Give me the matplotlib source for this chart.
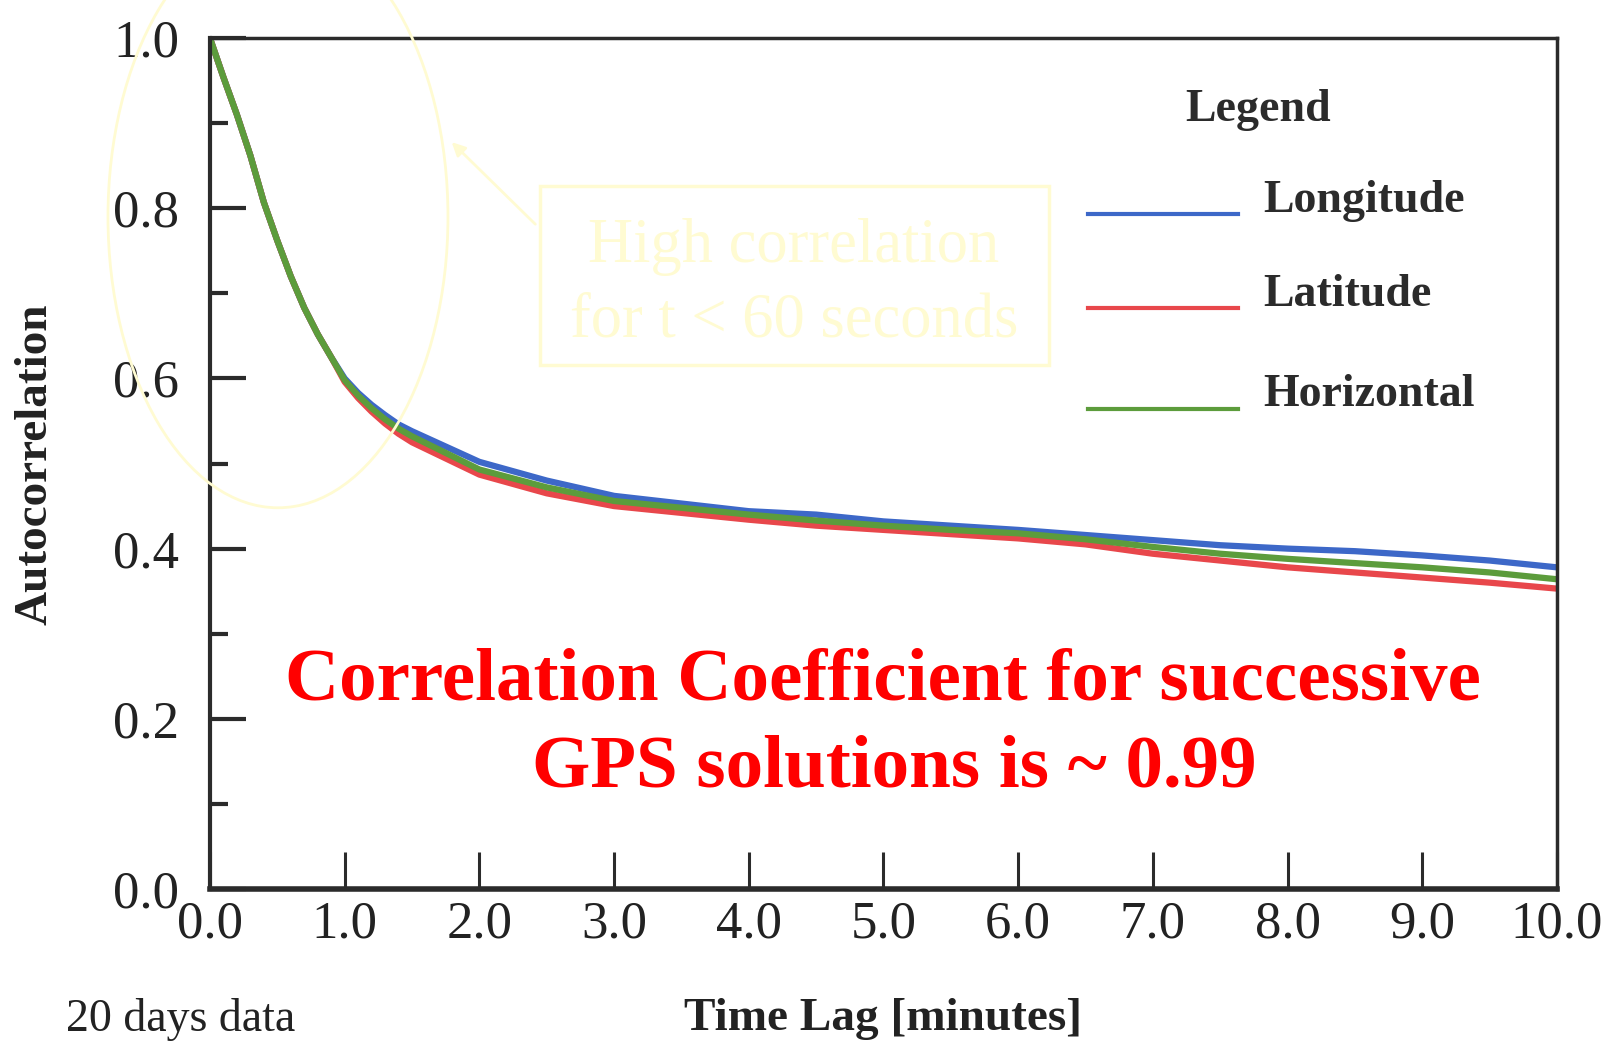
import matplotlib
matplotlib.use("Agg")
from matplotlib import pyplot as plt
from matplotlib.patches import Ellipse, Rectangle

plt.rcParams['font.family'] = ['Liberation Serif', 'DejaVu Serif']

# time lag in minutes and autocorrelation
lag = [0.0, 0.1, 0.2, 0.3, 0.4, 0.5, 0.6, 0.7, 0.8, 0.9, 1.0, 1.1, 1.2, 1.3, 1.4,
       1.5, 2.0, 2.5, 3.0, 3.5, 4.0, 4.5, 5.0, 5.5, 6.0, 6.5, 7.0, 7.5, 8.0,
       8.5, 9.0, 9.5, 10.0]
longitude = [1.0, 0.954, 0.910, 0.862, 0.807, 0.762, 0.720, 0.683, 0.652, 0.625,
             0.600, 0.583, 0.569, 0.557, 0.546,
             0.538, 0.502, 0.480, 0.462, 0.453, 0.444, 0.440, 0.432, 0.427,
             0.422, 0.416, 0.410, 0.404, 0.400, 0.397, 0.392, 0.386, 0.378]
latitude = [1.0, 0.954, 0.910, 0.862, 0.807, 0.762, 0.720, 0.683, 0.652, 0.625,
            0.596, 0.577, 0.561, 0.547, 0.535,
            0.525, 0.487, 0.465, 0.450, 0.442, 0.434, 0.427, 0.422, 0.417,
            0.412, 0.405, 0.394, 0.386, 0.378, 0.372, 0.366, 0.360, 0.353]
horizontal = [1.0, 0.954, 0.910, 0.862, 0.807, 0.762, 0.720, 0.683, 0.652, 0.625,
              0.598, 0.580, 0.565, 0.552, 0.541,
              0.532, 0.493, 0.472, 0.456, 0.448, 0.440, 0.433, 0.427, 0.422,
              0.418, 0.411, 0.402, 0.394, 0.388, 0.383, 0.378, 0.372, 0.364]

names = ["Longitude", "Latitude", "Horizontal"]
colors = ["#3d68c8", "#e8474b", "#5c9c3c"]

x_ticks = [0, 1, 2, 3, 4, 5, 6, 7, 8, 9, 10]
y_ticks = [0.0, 0.2, 0.4, 0.6, 0.8, 1.0]
y_minor = [0.1, 0.3, 0.5, 0.7, 0.9]

fig = plt.figure(figsize=(16.2, 10.44), dpi=100)
ax = fig.add_axes([0.1296, 0.1485, 0.8315, 0.815])

for vals, name, col in zip([longitude, latitude, horizontal], names, colors):
    ax.plot(lag, vals, color=col, lw=4.5, label=name)

ax.set_xlim(0, 10)
ax.set_ylim(0, 1)
ax.set_xticks(x_ticks)
ax.set_xticklabels(["%.1f" % v for v in x_ticks])
ax.set_yticks(y_ticks)
ax.set_yticklabels(["%.1f" % v for v in y_ticks])
ax.set_yticks(y_minor, minor=True)

axis_col = "#2b2b2b"
for side, w in [("left", 3), ("bottom", 4), ("top", 2.5), ("right", 2.5)]:
    ax.spines[side].set_linewidth(w)
    ax.spines[side].set_color(axis_col)
ax.tick_params(axis="x", direction="in", length=27, width=2.2, color=axis_col,
               labelsize=38, pad=8, labelcolor="#222222")
ax.tick_params(axis="y", which="major", direction="in", length=26, width=3,
               color=axis_col, labelsize=38, pad=22, labelcolor="#222222")
ax.tick_params(axis="y", which="minor", direction="in", length=13, width=3,
               color=axis_col)

ax.set_xlabel("Time Lag [minutes]", fontsize=34, fontweight="bold", color="#222222")
ax.xaxis.set_label_coords(0.5, -0.128)
fig.text(0.022, 0.555, "Autocorrelation", rotation=90, fontsize=34,
         fontweight="bold", color="#222222", ha="center", va="center")
fig.text(0.041, 0.012, "20 days data", fontsize=33, color="#222222", va="baseline")

# hand placed legend, as in the scan
ax.text(0.778, 0.915, "Legend", transform=ax.transAxes, fontsize=33,
        fontweight="bold", color="#2b2b2b", ha="center", va="center")
line_y = [0.793, 0.683, 0.564]
text_y = [0.809, 0.698, 0.580]
for name, col, ly, ty in zip(names, colors, line_y, text_y):
    ax.plot([0.652, 0.763], [ly, ly], transform=ax.transAxes, color=col, lw=3)
    ax.text(0.782, ty, name, transform=ax.transAxes, fontsize=33,
            fontweight="bold", color="#2b2b2b", va="center")

# faded yellow callout
pale = "#fffbd2"
ax.add_patch(Ellipse((0.0505, 0.79), 0.2524, 0.684, transform=ax.transAxes,
                     fill=False, ec=pale, lw=2, clip_on=False, zorder=5))
ax.add_patch(Rectangle((0.245, 0.616), 0.378, 0.21, transform=ax.transAxes,
                       fill=False, ec=pale, lw=2.5, zorder=5))
ax.annotate("", xy=(0.178, 0.88), xytext=(0.243, 0.779), xycoords="axes fraction",
            arrowprops=dict(arrowstyle="-|>", color=pale, lw=2, mutation_scale=20))
ax.text(0.4336, 0.755, "High correlation", transform=ax.transAxes, fontsize=45,
        color=pale, ha="center", va="center")
ax.text(0.4336, 0.667, "for t < 60 seconds", transform=ax.transAxes, fontsize=45,
        color=pale, ha="center", va="center")

ax.text(0.4996, 0.243, "Correlation Coefficient for successive", transform=ax.transAxes,
        fontsize=54, fontweight="bold", color="#ff0000", ha="center", va="center")
ax.text(0.508, 0.141, "GPS solutions is ~ 0.99", transform=ax.transAxes,
        fontsize=54, fontweight="bold", color="#ff0000", ha="center", va="center")

plt.savefig("out.png", dpi=100)
